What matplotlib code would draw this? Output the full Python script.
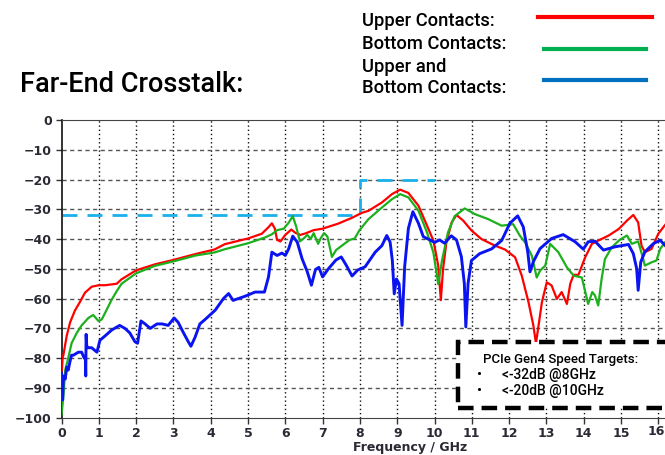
import matplotlib
matplotlib.use("Agg")
import matplotlib.pyplot as plt
from matplotlib.patches import Rectangle

# ---------------- data ----------------
red_x = [0, 0.03, 0.05, 0.14, 0.23, 0.36, 0.5, 0.63, 0.81, 1.0, 1.17, 1.48, 1.61, 2.0, 2.5, 3.0, 3.6,
         4.1, 4.38, 5.0, 5.37, 5.55, 5.64, 5.72, 5.78, 5.87, 6.0, 6.16, 6.27, 6.4, 6.54, 6.76, 7.0,
         7.42, 7.78, 8.05, 8.23, 8.59, 8.86, 9.08, 9.3, 9.57, 9.8, 9.97, 10.1, 10.17, 10.23, 10.32,
         10.46, 10.59, 10.77, 10.99, 11.26, 11.62, 11.89, 12.16, 12.34, 12.52, 12.65, 12.72, 12.79,
         12.88, 13.01, 13.14, 13.28, 13.41, 13.55, 13.64, 13.73, 13.86, 14.04, 14.22, 14.44, 14.67,
         14.94, 15.16, 15.33, 15.46, 15.55, 15.64, 15.82, 16.0, 16.18]
red_y = [-86, -80, -79, -72.5, -68, -64, -61, -58, -56, -55.5, -55.5, -55, -53.5, -50.5, -48.5, -47, -45,
         -43.5, -41.7, -39.8, -38.2, -36, -34.7, -36.5, -40.3, -40.8, -38.6, -36.8, -37.9, -38.6, -38.1,
         -37, -36.5, -34.8, -32.9, -31.2, -30.5, -27.7, -24.9, -23.4, -24.5, -28.8, -35.5, -40.5, -48.9,
         -60.5, -50, -41, -34.4, -31.9, -33.8, -37.1, -40, -42.2, -43.5, -46.1, -52.3, -61.2, -69, -75,
         -69, -61.2, -54.5, -55.6, -60.1, -57.8, -61.8, -55, -52, -52, -46.1, -41.6, -40.2, -38.8,
         -36.6, -33.8, -31.9, -34.4, -42.2, -44.4, -43.3, -38.2, -35.3]

green_x = [0, 0.05, 0.1, 0.18, 0.27, 0.41, 0.54, 0.72, 0.85, 0.99, 1.08, 1.2, 1.34, 1.48, 1.61, 2.0,
           2.5, 3.0, 3.6, 4.1, 4.38, 5.0, 5.45, 5.64, 5.78, 5.96, 6.09, 6.2, 6.29, 6.39, 6.5, 6.59,
           6.68, 6.76, 6.88, 6.95, 7.04, 7.13, 7.25, 7.36, 7.54, 7.72, 7.86, 7.99, 8.23, 8.59, 8.86,
           9.08, 9.3, 9.57, 9.8, 9.97, 10.1, 10.2, 10.36, 10.54, 10.81, 11.08, 11.44, 11.8, 12.11,
           12.29, 12.43, 12.61, 12.74, 12.83, 12.97, 13.1, 13.32, 13.55, 13.73, 13.95, 14.12, 14.23,
           14.3, 14.39, 14.48, 14.57, 14.75, 14.97, 15.16, 15.29, 15.46, 15.57, 15.64, 15.82, 15.95,
           16.05, 16.18]
green_y = [-99, -93, -84, -80, -75, -71.5, -69, -66.5, -65.5, -67.5, -67, -64, -60.5, -57.5, -55, -51.5,
           -49, -47.5, -45.5, -44.5, -43.4, -41.4, -39.5, -38.4, -37, -36.5, -34.5, -32.3, -35.7, -40.8,
           -39.7, -38.6, -40, -38, -41.6, -39.7, -38, -39.2, -46, -43.7, -42, -40.3, -39.8, -37, -33.3,
           -29.4, -26.6, -24.9, -26, -30.5, -37.8, -44.5, -55.1, -47.3, -37.8, -32.3, -29.7, -31.6,
           -33.3, -35.5, -35, -38.9, -41.1, -45.6, -52.9, -50.6, -48.9, -41.6, -44.4, -49.5, -52.3,
           -52.9, -61.8, -57.8, -58.9, -62.3, -53.4, -46.7, -42.8, -40.2, -38.8, -41.6, -40.8, -45.5,
           -48.9, -47.8, -47.2, -43.3, -41.1]

blue_x = [0, 0.03, 0.05, 0.1, 0.14, 0.18, 0.23, 0.27, 0.32, 0.45, 0.54, 0.61, 0.64, 0.65, 0.66, 0.68,
          0.72, 0.81, 0.95, 1.03, 1.17, 1.35, 1.56, 1.7, 1.83, 1.97, 2.04, 2.13, 2.24, 2.38, 2.56, 2.7,
          2.86, 3.02, 3.13, 3.25, 3.4, 3.47, 3.58, 3.71, 3.85, 4.12, 4.34, 4.48, 4.6, 4.92, 5.19, 5.44,
          5.55, 5.64, 5.78, 5.91, 6.0, 6.09, 6.2, 6.32, 6.45, 6.59, 6.7, 6.81, 6.9, 7.0, 7.16, 7.36,
          7.5, 7.63, 7.79, 7.94, 8.14, 8.41, 8.59, 8.72, 8.81, 8.87, 8.92, 8.98, 9.05, 9.13, 9.2, 9.3,
          9.42, 9.57, 9.7, 9.88, 10.0, 10.14, 10.27, 10.45, 10.59, 10.72, 10.8, 10.84, 10.9, 10.99,
          11.21, 11.53, 11.8, 12.02, 12.23, 12.38, 12.5, 12.56, 12.65, 12.83, 13.14, 13.45, 13.77,
          13.99, 14.12, 14.3, 14.53, 14.84, 15.2, 15.33, 15.42, 15.46, 15.53, 15.64, 15.87, 16.05, 16.18]
blue_y = [-85, -94, -86, -87, -83, -84, -81, -79, -79, -78, -78, -80, -80, -86, -72, -76.5,
          -76.5, -76.5, -78, -74, -72.5, -70.5, -69, -70, -71.5, -74.5, -75, -67.5, -68.5, -70, -68.5,
          -68.5, -69, -66.5, -68, -71, -74.5, -76, -73, -68.5, -67, -63.9, -60, -58.3, -60.6, -59.2,
          -57.8, -57.8, -52.7, -44.4, -45.5, -44.7, -45.5, -43.3, -39, -41, -46.6, -51, -55.5, -50.2,
          -49.5, -52.7, -49.9, -47, -46, -48.7, -52.4, -50.4, -49.3, -44.4, -42.2, -38.8, -41, -47.2,
          -58.4, -53.4, -55, -69, -49.3, -36.4, -30.8, -34.7, -39.2, -40.3, -41.1, -40.3, -41.4, -38.9,
          -40.3, -45.9, -54.9, -69.5, -54.9, -47.2, -44.9, -43.3, -40.5, -34.7, -32.2, -35.9, -44.3,
          -51, -47.6, -43.2, -39.8, -38.5, -40.9, -43.4, -40.9, -40.7, -43.7, -42.6, -41.8, -44.9,
          -49.9, -57.2, -47.7, -44.3, -41.5, -40.4, -42.1]

target_x = [0, 8, 8, 10]
target_y = [-32, -32, -20, -20]

x_ticks = list(range(0, 17))
y_ticks = list(range(-100, 1, 10))

legend_labels = ["Upper Contacts:", "Bottom Contacts:", "Upper and\nBottom Contacts:"]
box_title = "PCIe Gen4 Speed Targets:"
box_items = ["<-32dB @8GHz", "<-20dB @10GHz"]

# ---------------- figure ----------------
W, H = 665, 455
fig = plt.figure(figsize=(W / 100, H / 100), dpi=100)
ax_left, ax_right, ax_top, ax_bot = 61.5, 665, 120, 417.7
ax = fig.add_axes([ax_left / W, 1 - ax_bot / H, (ax_right - ax_left) / W, (ax_bot - ax_top) / H])
ax.set_xlim(0, (ax_right - ax_left) / 37.3)
ax.set_ylim(-100, 0)

# grid
for xv in x_ticks[1:]:
    ax.axvline(xv, color="#111111", lw=1.0, dashes=(1, 2), zorder=1)
for yv in y_ticks[1:-1]:
    ax.axhline(yv, color="#555555", lw=1.0, dashes=(3, 2.5), zorder=1)

ax.plot(red_x, red_y, color="#FF0000", lw=1.6, zorder=3)
ax.plot(green_x, green_y, color="#1DB01D", lw=1.6, zorder=3)
ax.plot(blue_x, blue_y, color="#0A14F0", lw=2.1, zorder=4)
ax.plot(target_x, target_y, color="#1AB0EA", lw=2.0, linestyle=(0, (5.4, 3.6)), zorder=2)

tick_color = "#2a2a35"
ax.set_xticks(x_ticks)
ax.set_xticklabels([str(v) for v in x_ticks[:-1]] + [""])
ax.set_yticks(y_ticks)
ax.tick_params(axis="both", direction="out", length=4, width=1, color="#333333",
               labelsize=9, labelcolor=tick_color)
for lab in ax.get_xticklabels() + ax.get_yticklabels():
    lab.set_fontweight("bold")
ax.tick_params(axis="y", pad=3)
ax.tick_params(axis="x", pad=3)
# last x tick label, kept just inside the right edge of the picture
fig.text(664.5 / W, 1 - (ax_bot + 7) / H, str(x_ticks[-1]), ha="right", va="top",
         fontsize=9, fontweight="bold", color=tick_color)

ax.spines["right"].set_visible(False)
ax.spines["top"].set_color("#444444")
ax.spines["left"].set_color("#111111")
ax.spines["left"].set_linewidth(1.2)
ax.spines["bottom"].set_color("#444444")

# annotation box
bx0 = (458 - ax_left) / 37.3
rect = Rectangle((bx0, -96.8), 8, 22.3, facecolor="white", edgecolor="black",
                 lw=3.2, linestyle=(0, (3.5, 1.8)), zorder=6, clip_on=True)
ax.add_patch(rect)

tfont = ["Roboto", "DejaVu Sans"]
fig.text(561 / W, 1 - 360 / H, box_title, ha="center", va="center", fontsize=9.5,
         family=tfont, fontweight="medium", zorder=10)
for i, item in enumerate(box_items):
    yy = 1 - (375 + 16 * i) / H
    fig.text(480 / W, yy, "•", ha="center", va="center", fontsize=11, family=tfont)
    fig.text(502 / W, yy, item, ha="left", va="center", fontsize=10, family=tfont,
             fontweight="medium")

# x label (near bottom edge, as in reference)
fig.text(410 / W, 1 - 447.5 / H, "Frequency / GHz", ha="center", va="center",
         fontsize=9, fontweight="bold", color=tick_color)

# title
fig.text(20 / W, 1 - 85 / H, "Far-End Crosstalk:", ha="left", va="center",
         fontsize=19.5, family=tfont, fontweight="medium", color="black")

# legend
leg_y = [21, 44, 77.5]
line_y = [17, 49, 80]
line_x = [(538, 652), (544, 646), (544, 646)]
colors = ["#FF0000", "#00B050", "#0070C0"]
for lab, ty, ly, (x0, x1), c in zip(legend_labels, leg_y, line_y, line_x, colors):
    fig.text(362 / W, 1 - ty / H, lab, ha="left", va="center", fontsize=13.2,
             family=tfont, fontweight="medium", linespacing=1.2)
    fig.add_artist(plt.Line2D([x0 / W, x1 / W], [1 - ly / H, 1 - ly / H], color=c,
                              lw=3, transform=fig.transFigure))

fig.savefig("out.png", dpi=100)
